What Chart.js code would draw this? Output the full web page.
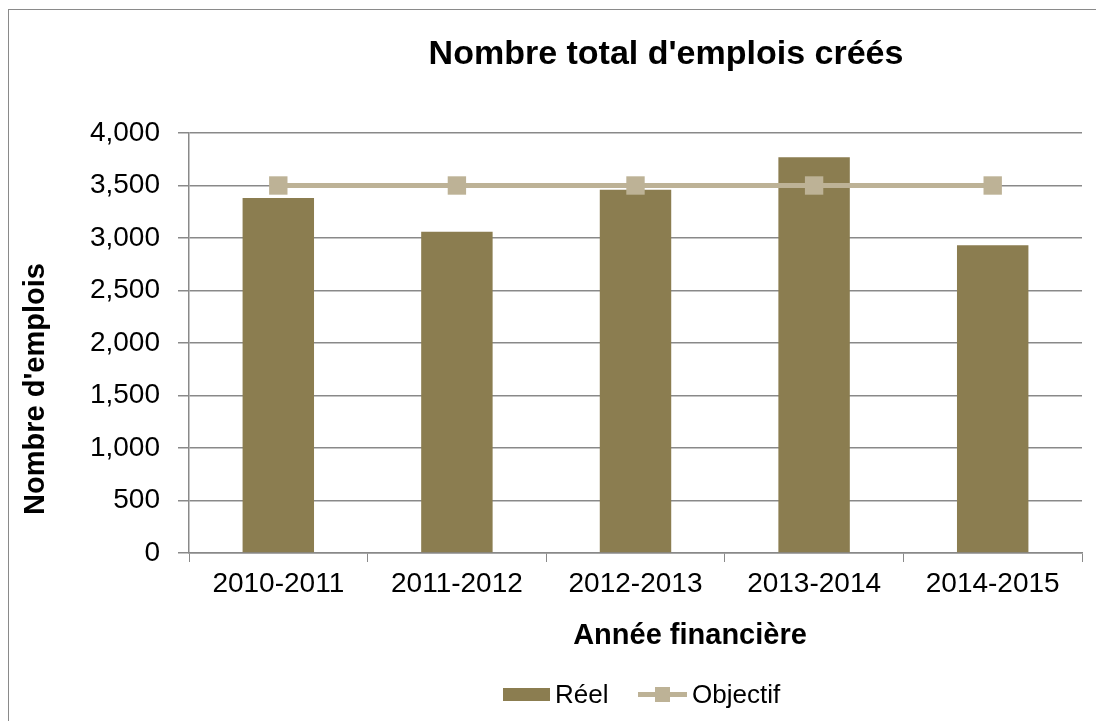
<!DOCTYPE html>
<html lang="fr">
<head>
<meta charset="UTF-8">
<title>Nombre total d'emplois créés</title>
<script src="https://cdn.jsdelivr.net/npm/chart.js"></script>
<style>
    body { margin: 0; background: #fff; }
    #frame { position: absolute; left: 8px; top: 9px; width: 1200px; height: 800px;
             border-left: 1.5px solid #8a8a8a; border-top: 1.5px solid #8a8a8a; }
    canvas { position: absolute; left: 0; top: 0; }
</style>
</head>
<body>
<div id="frame"></div>
<canvas id="jobsChart" width="1096" height="721"></canvas>

<script>
    // data
    const years = ['2010-2011', '2011-2012', '2012-2013', '2013-2014', '2014-2015'];
    const actualJobs = [3380, 3060, 3460, 3770, 2930];
    const targetJobs = [3500, 3500, 3500, 3500, 3500];

    const chartTitle = "Nombre total d'emplois créés";
    const xTitle = 'Année financière';
    const yTitle = "Nombre d'emplois";
    const seriesNames = ['Réel', 'Objectif'];

    const barColor = '#8b7d50';
    const lineColor = '#bdb296';
    const gridColor = '#898989';
    const font = "'Liberation Sans', Arial, sans-serif";

    // titles and legend are placed like the Excel original (not centred on the plot)
    const textPlugin = {
        id: 'excelText',
        afterDraw(chart) {
            const ctx = chart.ctx;
            ctx.save();
            ctx.fillStyle = '#000';
            ctx.textBaseline = 'alphabetic';
            ctx.textAlign = 'center';

            ctx.font = 'bold 34px ' + font;
            ctx.fillText(chartTitle, 666, 64);

            ctx.font = 'bold 29px ' + font;
            ctx.fillText(xTitle, 690, 644);

            ctx.save();
            ctx.translate(44, 389);
            ctx.rotate(-Math.PI / 2);
            ctx.fillText(yTitle, 0, 0);
            ctx.restore();

            // legend
            ctx.textAlign = 'left';
            ctx.font = '26px ' + font;
            ctx.fillStyle = barColor;
            ctx.fillRect(503, 688, 47, 13);
            ctx.fillStyle = '#000';
            ctx.fillText(seriesNames[0], 555, 703);

            ctx.strokeStyle = lineColor;
            ctx.lineWidth = 5;
            ctx.beginPath();
            ctx.moveTo(638, 694.5);
            ctx.lineTo(687, 694.5);
            ctx.stroke();
            ctx.fillStyle = lineColor;
            ctx.fillRect(655, 687, 15, 15);
            ctx.fillStyle = '#000';
            ctx.fillText(seriesNames[1], 692, 703);
            ctx.restore();
        }
    };

    const ctx = document.getElementById('jobsChart').getContext('2d');
    new Chart(ctx, {
        type: 'bar',
        data: {
            labels: years,
            datasets: [{
                type: 'bar',
                label: seriesNames[0],
                data: actualJobs,
                backgroundColor: barColor,
                barPercentage: 0.4,
                categoryPercentage: 1.0,
                order: 2
            }, {
                type: 'line',
                label: seriesNames[1],
                data: targetJobs,
                borderColor: lineColor,
                backgroundColor: lineColor,
                borderWidth: 5,
                pointStyle: 'rect',
                pointRadius: 13,
                pointBorderWidth: 0,
                pointBackgroundColor: lineColor,
                fill: false,
                tension: 0,
                order: 1
            }]
        },
        options: {
            responsive: false,
            animation: false,
            layout: { padding: { left: 0, right: 14, top: 133, bottom: 108 } },
            scales: {
                x: {
                    offset: true,
                    grid: {
                        offset: true,
                        drawOnChartArea: false,
                        drawTicks: true,
                        tickLength: 9,
                        color: gridColor
                    },
                    border: { color: gridColor, width: 1.5 },
                    ticks: {
                        color: '#000',
                        padding: 5,
                        font: { family: font, size: 28 }
                    },
                    afterFit(scale) { scale.height = 60; }
                },
                y: {
                    min: 0,
                    max: 4000,
                    ticks: {
                        stepSize: 500,
                        color: '#000',
                        padding: 18,
                        font: { family: font, size: 28 },
                        callback: v => v.toLocaleString('en-US')
                    },
                    grid: {
                        color: gridColor,
                        lineWidth: 1.5,
                        tickLength: 11
                    },
                    border: { color: gridColor, width: 1.5 },
                    afterFit(scale) { scale.width = 189; }
                }
            },
            plugins: {
                legend: { display: false },
                title: { display: false },
                tooltip: { enabled: false }
            }
        },
        plugins: [textPlugin]
    });
</script>
</body>
</html>
